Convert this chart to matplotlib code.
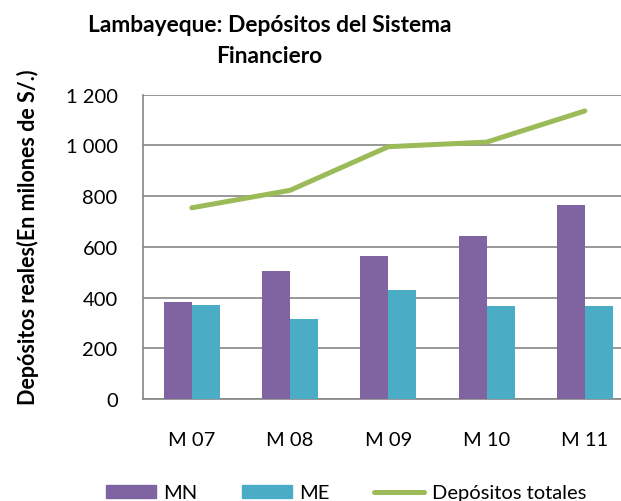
import matplotlib
matplotlib.use("Agg")
import matplotlib.pyplot as plt
import numpy as np
from matplotlib.lines import Line2D
from matplotlib.patches import Patch

categories = ["M 07", "M 08", "M 09", "M 10", "M 11"]
mn = [383, 505, 563, 643, 766]
me = [369, 314, 428, 368, 366]
total = [754, 823, 995, 1013, 1136]
yticks = [0, 200, 400, 600, 800, 1000, 1200]
ytick_labels = ["0", "200", "400", "600", "800", "1 000", "1 200"]

plt.rcParams['font.family'] = ['Lato', 'DejaVu Sans']

W, H = 621, 502
fig = plt.figure(figsize=(W / 100, H / 100), dpi=100)
ax_left, ax_right, ax_top, ax_bot = 142.7, 634.0, 95.7, 400.0
ax = fig.add_axes([ax_left / W, 1 - ax_bot / H, (ax_right - ax_left) / W, (ax_bot - ax_top) / H])

x = np.arange(len(categories))
bw = 0.285
ax.bar(x - bw / 2, mn, width=bw, color="#8064A2", zorder=3)
ax.bar(x + bw / 2, me, width=bw, color="#4BACC6", zorder=3)
ax.plot(x, total, color="#9BBB59", lw=3.6, solid_capstyle="round", zorder=4)

ax.set_xlim(-0.5, 4.5)
ax.set_ylim(0, 1200)
ax.set_yticks(yticks)
ax.set_yticklabels(ytick_labels, fontsize=14.5)
ax.set_xticks(x)
ax.set_xticklabels(categories, fontsize=14.5)
ax.tick_params(axis="both", length=0, colors="black")
ax.tick_params(axis="y", pad=18)
ax.tick_params(axis="x", pad=23)
ax.grid(axis="y", color="#868686", lw=1.2, zorder=0)
for s in ["top", "right"]:
    ax.spines[s].set_visible(False)
for s in ["left", "bottom"]:
    ax.spines[s].set_color("#868686")
    ax.spines[s].set_linewidth(1.2)

fig.text(269.5 / W, 1 - 41 / H, "Lambayeque: Depósitos del Sistema\nFinanciero",
         ha="center", va="center", fontsize=16.4, fontweight="bold", linespacing=1.6)
fig.text(28 / W, 1 - 237 / H, "Depósitos reales(En milones de S/.)", rotation=90,
         ha="center", va="center", fontsize=15.5, fontweight="bold")

handles = [Patch(color="#8064A2"), Patch(color="#4BACC6"),
           Line2D([0], [0], color="#9BBB59", lw=3.6, solid_capstyle="round")]
leg = fig.legend(handles, ["MN", "ME", "Depósitos totales"], loc="center",
                 bbox_to_anchor=(346 / W, 1 - 494 / H), ncol=3, frameon=False,
                 fontsize=14.5, handlelength=2.5, handleheight=0.6, handletextpad=0.35,
                 columnspacing=2.2, borderpad=0, borderaxespad=0)

fig.savefig("out.png", dpi=100)
